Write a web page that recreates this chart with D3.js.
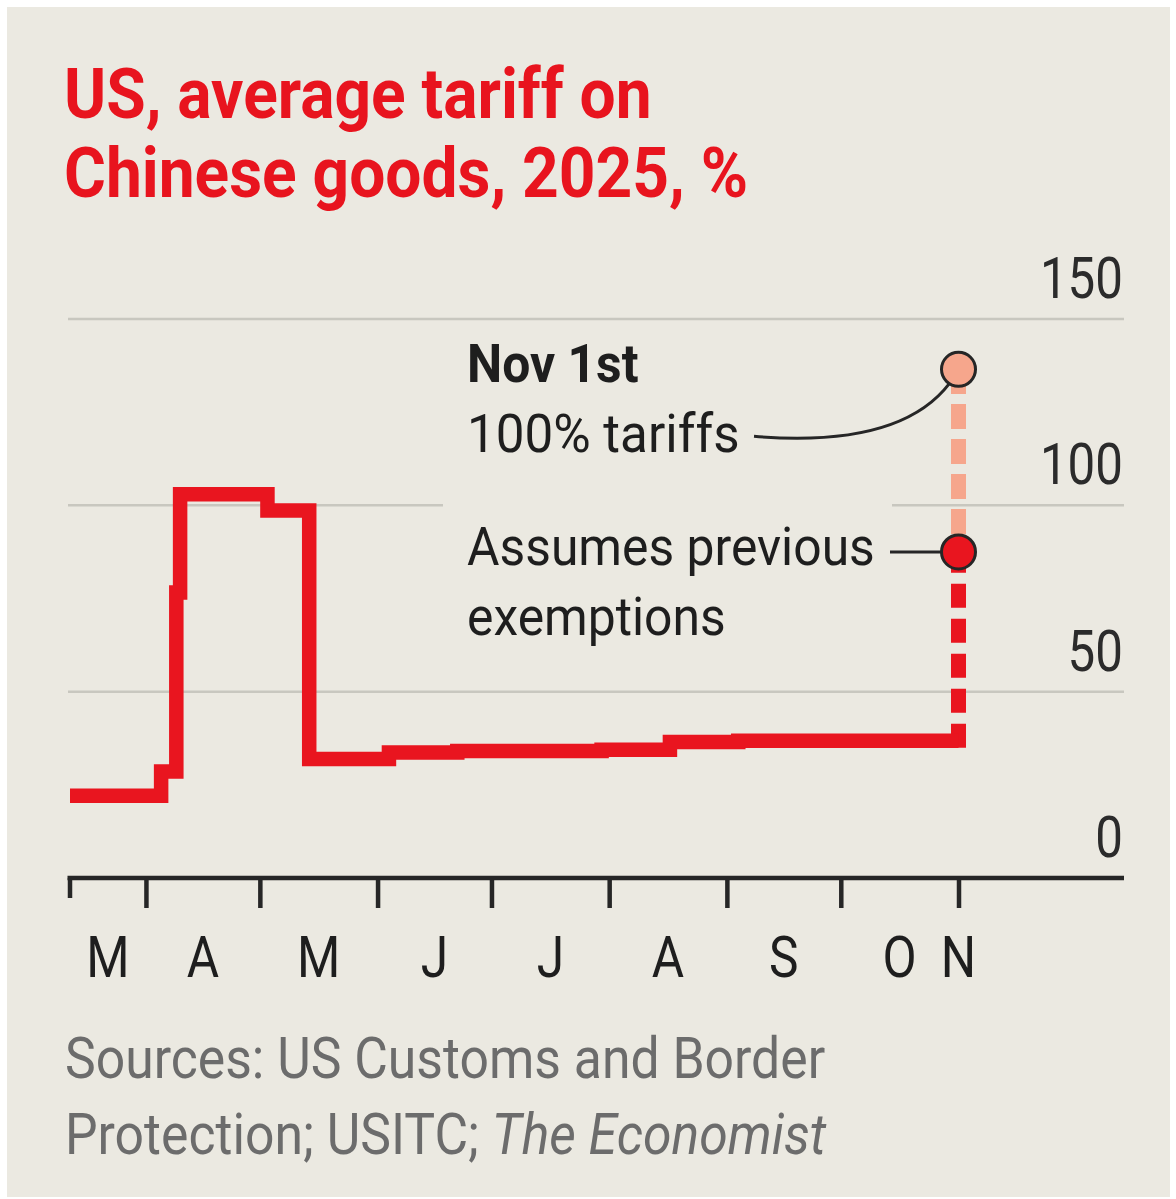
<!DOCTYPE html>
<html>
<head>
<meta charset="utf-8">
<script src="https://cdn.jsdelivr.net/npm/d3@7"></script>
<style>
  html, body { margin: 0; padding: 0; background: #ffffff; }
  svg { display: block; }
  text { font-family: Roboto, "Liberation Sans", Arial, sans-serif; }
</style>
</head>
<body>
<svg id="chart" width="1176" height="1199"></svg>
<script>
// Average US tariff on Chinese goods, step changes through 2025 (%)
const stepDates   = ["2025-03-12", "2025-04-05", "2025-04-09", "2025-04-10", "2025-05-03", "2025-05-14",
                     "2025-06-04", "2025-06-22", "2025-07-30", "2025-08-17", "2025-09-04", "2025-11-01"];
const tariffValues = [22.1, 28.6, 76.6, 103.0, 98.6, 31.9, 33.7, 34.1, 34.4, 36.5, 36.8, 36.8];

// Nov 1st scenarios
const projectionDate = "2025-11-01";
const exemptionsValue = 87.5;     // assumes previous exemptions
const fullTariffValue = 136.5;    // 100% tariffs

// Axis ticks and labels
const monthStarts = ["2025-03-01", "2025-04-01", "2025-05-01", "2025-06-01", "2025-07-01",
                     "2025-08-01", "2025-09-01", "2025-10-01", "2025-11-01"];
const monthLabels = ["M", "A", "M", "J", "J", "A", "S", "O", "N"];
const yTicks = [0, 50, 100, 150];

const titleLines = ["US, average tariff on", "Chinese goods, 2025, %"];
const sourceLine1 = "Sources: US Customs and Border";
const sourceLine2 = "Protection; USITC; ";
const sourceItalic = "The Economist";

const RED = "#e9151f";
const PINK = "#f6a68c";
const INK = "#262626";

const parse = d3.utcParse("%Y-%m-%d");
const series = stepDates.map((d, i) => ({ date: parse(d), v: tariffValues[i] }));
const startDate = series[0].date;
const endDate = parse(projectionDate);

const svg = d3.select("#chart");

// panel
svg.append("rect").attr("x", 7).attr("y", 7).attr("width", 1163).attr("height", 1190)
  .attr("fill", "#ebe9e1");

const plotLeft = 68, plotRight = 1124;
const x = d3.scaleUtc().domain([startDate, endDate]).range([70, 958.5]);
const y = d3.scaleLinear().domain([0, 150]).range([878, 319]);

// title
const title = svg.append("g").attr("fill", "#e8141e").attr("font-weight", 700).attr("font-size", 70);
titleLines.forEach((t, i) => {
  title.append("text")
    .attr("transform", `translate(64,${118 + i * 79}) scale(0.915,1)`)
    .text(t);
});

// gridlines (100 line broken behind annotation)
const grid = svg.append("g").attr("stroke", "#c8c7bf").attr("stroke-width", 2.5);
yTicks.filter(v => v > 0).forEach(v => {
  const segs = v === 100 ? [[plotLeft, 443], [892, plotRight]] : [[plotLeft, plotRight]];
  segs.forEach(([a, b]) => {
    grid.append("line").attr("x1", a).attr("x2", b).attr("y1", y(v)).attr("y2", y(v));
  });
});

// y tick labels
const yLab = svg.append("g").attr("fill", "#2b2b2b").attr("font-size", 57).attr("text-anchor", "end");
yTicks.forEach(v => {
  yLab.append("text")
    .attr("transform", `translate(1123,${y(v) - 21}) scale(0.865,1)`)
    .text(v);
});

// x axis
const tickDates = monthStarts.slice(1).map(parse);
const xAxis = d3.axisBottom(x).tickValues(tickDates).tickSize(30).tickFormat("");
const axisG = svg.append("g").attr("transform", `translate(0,${y(0)})`).call(xAxis);
axisG.select(".domain").remove();
axisG.selectAll(".tick line").attr("stroke", INK).attr("stroke-width", 4.5);
axisG.append("line").attr("x1", x(startDate)).attr("x2", x(startDate)).attr("y1", 0).attr("y2", 20)
  .attr("stroke", INK).attr("stroke-width", 4.5);
axisG.append("line").attr("x1", plotLeft - 0.5).attr("x2", plotRight).attr("y1", 0).attr("y2", 0)
  .attr("stroke", INK).attr("stroke-width", 4.5);

// month labels, centred on the visible part of each month
const xLab = svg.append("g").attr("fill", "#1e1e1e").attr("font-size", 57).attr("text-anchor", "middle");
monthStarts.forEach((m, i) => {
  const s = parse(m);
  const e = d3.utcMonth.offset(s, 1);
  const a = x(s < startDate ? startDate : s);
  const b = x(e > endDate ? endDate : e);
  xLab.append("text")
    .attr("transform", `translate(${(a + Math.max(a, b)) / 2},977) scale(0.87,1)`)
    .text(monthLabels[i]);
});

// projections: dashed verticals at Nov 1st
const px = x(endDate);
const lastVal = tariffValues[tariffValues.length - 1];
svg.append("line")
  .attr("x1", px).attr("x2", px)
  .attr("y1", y(exemptionsValue) - 18).attr("y2", y(fullTariffValue))
  .attr("stroke", PINK).attr("stroke-width", 15).attr("stroke-dasharray", "25 10");
svg.append("line")
  .attr("x1", px).attr("x2", px)
  .attr("y1", y(lastVal) + 7).attr("y2", y(exemptionsValue))
  .attr("stroke", RED).attr("stroke-width", 15).attr("stroke-dasharray", "24 11");

// tariff step line
const line = d3.line().curve(d3.curveStepAfter).x(d => x(d.date)).y(d => y(d.v));
svg.append("path").datum(series)
  .attr("d", line)
  .attr("fill", "none").attr("stroke", RED).attr("stroke-width", 14.5)
  .attr("stroke-linejoin", "miter").attr("stroke-linecap", "butt");

// annotations
const ann = svg.append("g").attr("fill", "#1e1e1e").attr("font-size", 53);
ann.append("text").attr("font-weight", 700)
  .attr("transform", "translate(467,382) scale(0.94,1)").text("Nov 1st");
ann.append("text").attr("transform", "translate(467,452) scale(0.965,1)").text("100% tariffs");
ann.append("text").attr("transform", "translate(467,565) scale(0.94,1)").text("Assumes previous");
ann.append("text").attr("transform", "translate(467,635) scale(0.94,1)").text("exemptions");

const fy = y(fullTariffValue), ey = y(exemptionsValue);
svg.append("path")
  .attr("d", `M754,${fy + 67} Q900,${fy + 79} ${px - 9},${fy + 14}`)
  .attr("fill", "none").attr("stroke", INK).attr("stroke-width", 3);
svg.append("line").attr("x1", 890).attr("x2", px - 17).attr("y1", ey).attr("y2", ey)
  .attr("stroke", INK).attr("stroke-width", 3);

// markers
svg.append("circle").attr("cx", px).attr("cy", fy).attr("r", 17)
  .attr("fill", PINK).attr("stroke", INK).attr("stroke-width", 3);
svg.append("circle").attr("cx", px).attr("cy", ey).attr("r", 17)
  .attr("fill", RED).attr("stroke", INK).attr("stroke-width", 3);

// source note
const src = svg.append("g").attr("fill", "#6c6c6c").attr("font-size", 57);
src.append("text").attr("transform", "translate(65,1078) scale(0.907,1)").text(sourceLine1);
const t2 = src.append("text").attr("transform", "translate(65,1154) scale(0.907,1)");
t2.append("tspan").text(sourceLine2);
t2.append("tspan").attr("font-style", "italic").text(sourceItalic);
</script>
</body>
</html>
